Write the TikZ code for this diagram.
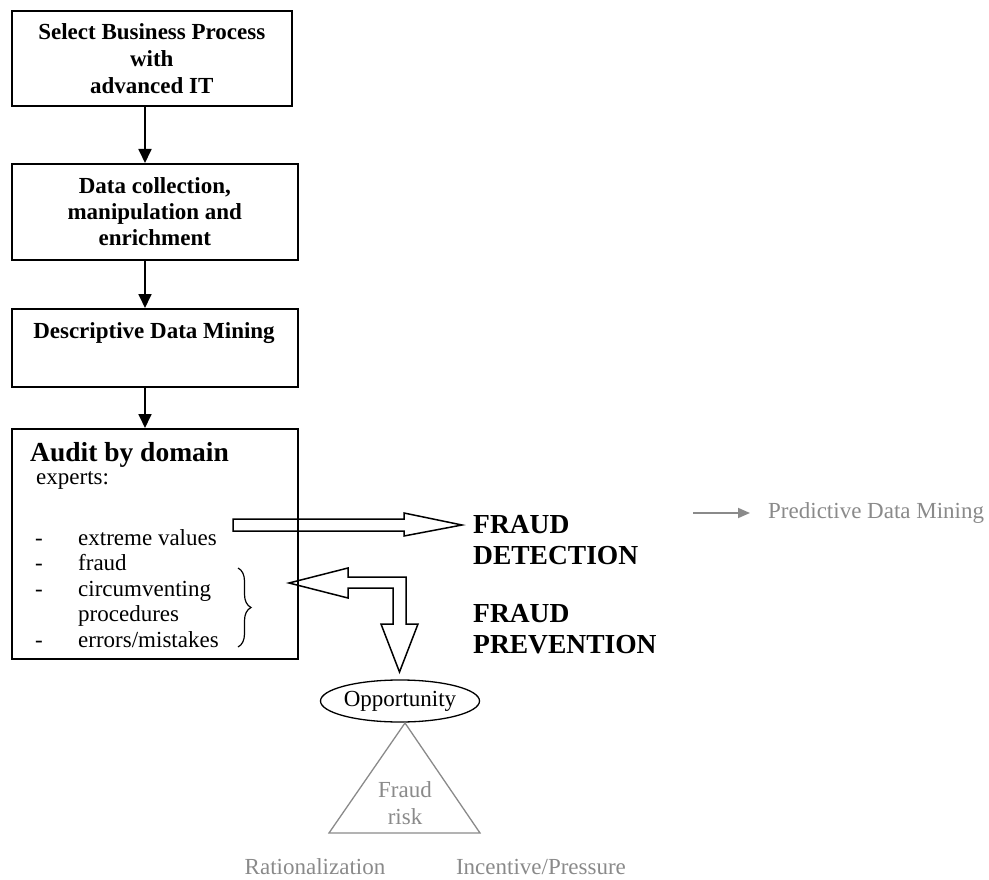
\documentclass[tikz,border=0pt]{standalone}
\usepackage{fontspec}
\setmainfont{Liberation Serif}
\usetikzlibrary{arrows.meta,shapes.geometric,decorations.pathreplacing}
\definecolor{lightink}{RGB}{138,138,138}
\begin{document}
\begin{tikzpicture}[x=1pt,y=-1pt,
  stepbox/.style={draw, line width=1.6pt, inner sep=0pt, anchor=north west},
  boxtitle/.style={font=\fontsize{23}{27}\selectfont\bfseries, align=center},
  plain/.style={font=\fontsize{23}{26}\selectfont, inner sep=0pt},
  flow/.style={line width=1.8pt, -{Triangle[length=14pt,width=13pt]}},
  hollow/.style={draw, line width=1.5pt, line join=miter},
  heading/.style={font=\fontsize{27.5}{31}\selectfont\bfseries, align=left, inner sep=0pt},
  faint/.style={font=\fontsize{23}{25}\selectfont, text=lightink, inner sep=0pt},
]
\useasboundingbox (0,0) rectangle (989,880);

% process steps
\node[stepbox, boxtitle, minimum width=280pt, minimum height=95pt] (b1) at (11,10)
  {Select Business Process\\with\\advanced IT};
\node[stepbox, font=\fontsize{23}{26}\selectfont\bfseries, align=center,
      minimum width=286pt, minimum height=96pt] (b2) at (11,163)
  {Data collection,\\manipulation and\\enrichment};
\node[stepbox, minimum width=286pt, minimum height=78pt] (b3) at (11,308) {};
\node[font=\fontsize{23}{26}\selectfont\bfseries, inner sep=0pt] (t3) at (154,333)
  {Descriptive Data Mining};
\node[stepbox, minimum width=286pt, minimum height=230pt] (b4) at (11,428) {};

% connectors between the steps
\draw[flow] (b1.south -| 145,0) -- (b2.north -| 145,0);
\draw[flow] (b2.south -| 145,0) -- (b3.north -| 145,0);
\draw[flow] (b3.south -| 145,0) -- (b4.north -| 145,0);

% audit box contents
\node[anchor=base west, font=\fontsize{27.5}{30}\selectfont\bfseries, inner sep=0pt, text depth=0pt] (audit) at (30,461) {Audit by domain};
\node[plain, anchor=base west, text height=12pt] (experts) at (36,484) {experts:};
\foreach \y/\txt/\dash [count=\i] in {545/extreme values/1, 570.5/fraud/1, 596/circumventing/1, 621.5/procedures/0, 647/errors\slash mistakes/1}{
  \ifnum\dash=1 \node[plain, anchor=base west] (d\i) at (35,\y) {-}; \fi
  \node[plain, anchor=base west] (item\i) at (78,\y) {\txt};
}
\draw[line width=1.2pt, decorate, decoration={brace, amplitude=13pt}] (238,568) -- (238,647);

% outcomes
\node[heading, anchor=west] (det) at (473,540) {FRAUD\\DETECTION};
\node[heading, anchor=west] (prev) at (473,629) {FRAUD\\PREVENTION};

% hollow block arrows
\draw[hollow] (233,519) -- (404,519) -- (404,513) -- (462,525) -- (404,536) -- (404,531) -- (233,531) -- cycle;
\draw[hollow] (289,583) -- (348,568) -- (348,577) -- (406,577) -- (406,624) -- (418,624)
  -- (399.5,672) -- (381,624) -- (393,624) -- (393,588) -- (348,588) -- (348,598) -- cycle;

% fraud triangle
\node[draw, ellipse, line width=1.3pt, minimum width=154pt, minimum height=42pt, inner sep=0pt,
      font=\fontsize{23}{26}\selectfont] (opp) at (400,701) {Opportunity};
\coordinate (apex) at (405,723);
\coordinate (left) at (329,833);
\coordinate (right) at (480,833);
\draw[lightink, line width=1.3pt, line join=miter] (apex) -- (right) -- (left) -- cycle;
\node[faint, align=center, font=\fontsize{23}{27}\selectfont] (risk) at (405,803) {Fraud\\risk};
\node[faint, anchor=base] (rat) at (315,874) {Rationalization};
\node[faint, anchor=base] (inc) at (541,874) {Incentive/Pressure};

% predictive branch
\node[faint, anchor=west] (pred) at (768,513) {Predictive Data Mining};
\coordinate (predstart) at (693,513);
\draw[lightink, line width=1.8pt, -{Triangle[length=12pt,width=10pt]}] (predstart) -- (pred.west -| 750,0);
\end{tikzpicture}
\end{document}
